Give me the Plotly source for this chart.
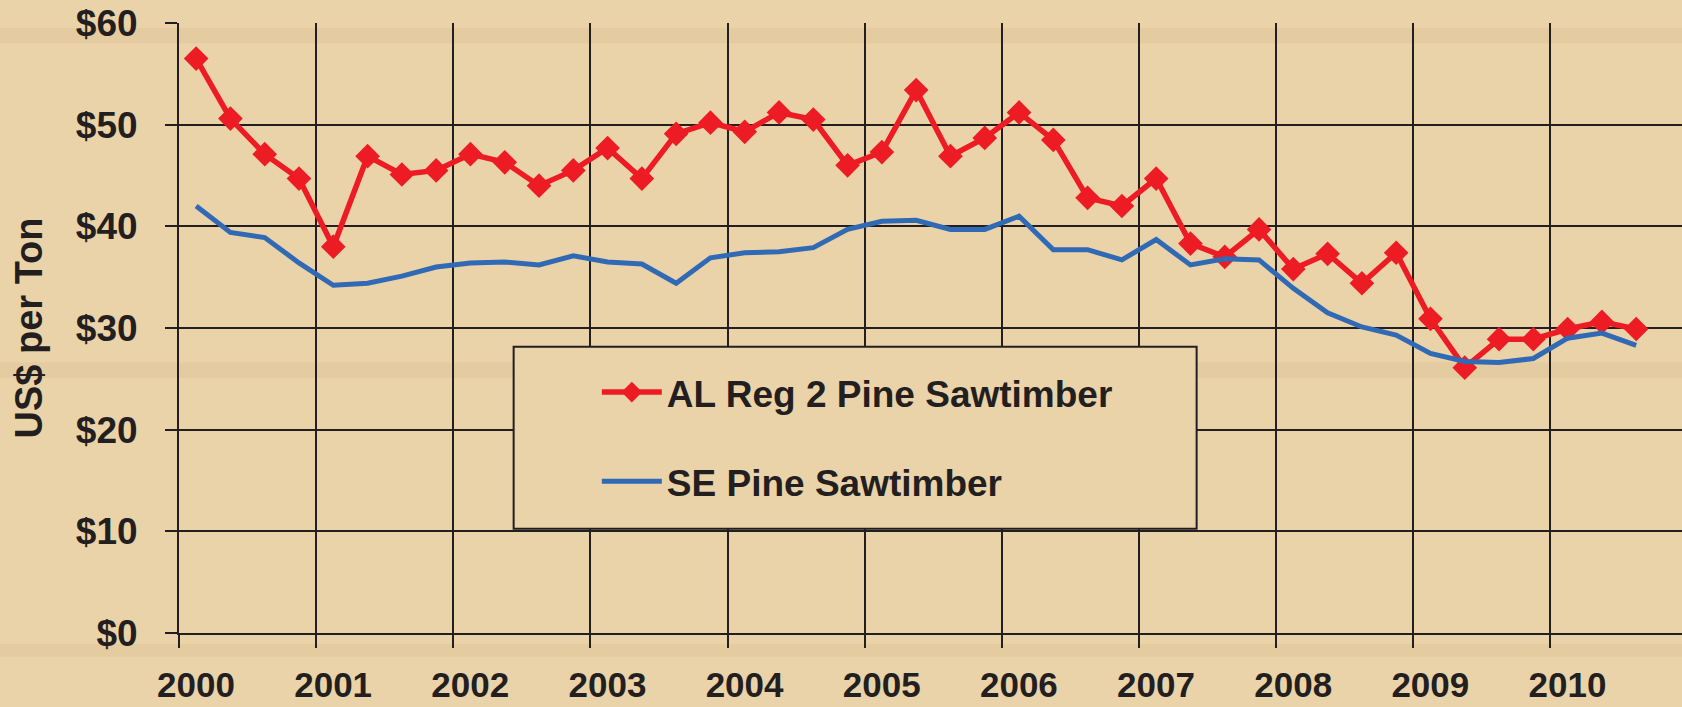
import plotly.graph_objects as go

# Quarterly stumpage prices, 2000 Q1 - 2010 Q3
years = list(range(2000, 2011))
quarters = [(y, q) for y in years for q in range(1, 5)][:43]
x_pos = [y + (q - 0.5) / 4 for y, q in quarters]

al_reg2 = [56.5, 50.6, 47.1, 44.7, 38.0, 46.9, 45.1, 45.5, 47.1, 46.3, 44.0,
           45.5, 47.7, 44.7, 49.1, 50.2, 49.3, 51.2, 50.5, 46.0, 47.3, 53.4,
           46.9, 48.7, 51.2, 48.5, 42.8, 42.0, 44.7, 38.3, 37.0, 39.7, 35.8,
           37.3, 34.4, 37.4, 30.9, 26.1, 28.9, 28.9, 29.9, 30.6, 29.9]
se_pine = [42.0, 39.4, 38.9, 36.4, 34.2, 34.4, 35.1, 36.0, 36.4, 36.5, 36.2,
           37.1, 36.5, 36.3, 34.4, 36.9, 37.4, 37.5, 37.9, 39.7, 40.5, 40.6,
           39.7, 39.7, 41.0, 37.7, 37.7, 36.7, 38.7, 36.2, 36.8, 36.7, 33.9,
           31.5, 30.1, 29.3, 27.5, 26.7, 26.6, 27.0, 29.0, 29.5, 28.3]

x_ticks = years
x_labels = [str(y) for y in years]
y_ticks = [0, 10, 20, 30, 40, 50, 60]
y_labels = ["$" + str(v) for v in y_ticks]

BG = "#EBD3A9"
INK = "#231F20"
FONT = "Liberation Sans, Arial, sans-serif"

fig = go.Figure()
fig.add_trace(go.Scatter(
    x=x_pos, y=al_reg2, name="AL Reg 2 Pine Sawtimber", legendgroup="a",
    mode="lines+markers",
    line=dict(color="#ED1C24", width=5.5),
    marker=dict(symbol="diamond", size=19, color="#ED1C24"),
))
fig.add_trace(go.Scatter(
    x=x_pos, y=se_pine, name="SE Pine Sawtimber", legendgroup="b",
    mode="lines",
    line=dict(color="#306AB5", width=5),
))

# faint wood-grain streaks
for y0, y1 in [(0.967, 0.992), (0.418, 0.444), (-0.039, -0.018)]:
    fig.add_shape(type="rect", xref="paper", yref="paper", x0=-0.13, x1=1.0,
                  y0=y0, y1=y1, layer="below", line_width=0,
                  fillcolor="rgba(190,150,100,0.12)")

# legend frame
fig.add_shape(type="rect", xref="x", yref="y", x0=2002.44, x1=2007.42,
              y0=10.26, y1=28.15, layer="above",
              line=dict(color=INK, width=2), fillcolor=BG)

fig.update_layout(
    width=1682, height=707,
    margin=dict(l=179, r=0, t=23, b=74),
    paper_bgcolor=BG, plot_bgcolor="rgba(0,0,0,0)",
    font=dict(family=FONT, size=37, color=INK, weight="bold"),
    showlegend=True,
    legend=dict(x=0.278, y=0.445, xanchor="left", yanchor="top",
                bgcolor="rgba(0,0,0,0)", borderwidth=0,
                traceorder="grouped", tracegroupgap=38,
                itemwidth=60,
                font=dict(size=37, family=FONT, color=INK, weight="bold")),
    xaxis=dict(range=[2000, 2010.959], tickmode="array", tickvals=x_ticks,
               ticktext=x_labels, showgrid=True, gridcolor=INK, gridwidth=2,
               showline=True, linecolor=INK, linewidth=2,
               ticks="outside", ticklen=13, tickwidth=2, tickcolor=INK,
               tickfont=dict(size=35),
               ticklabelshift=17, ticklabelstandoff=7, automargin=False,
               zeroline=False, fixedrange=True),
    yaxis=dict(range=[0, 60], tickmode="array", tickvals=y_ticks,
               ticktext=y_labels, showgrid=True, gridcolor=INK, gridwidth=2,
               showline=True, linecolor=INK, linewidth=2,
               ticks="outside", ticklen=12, tickwidth=2, tickcolor=INK,
               ticklabelstandoff=20, zeroline=False, automargin=False,
               title=dict(text="US$ per Ton", standoff=22,
                          font=dict(size=38, family=FONT, color=INK, weight="bold"))),
)

fig.write_html("out.html", config={"displayModeBar": False},
               post_script="document.body.style.margin='0';")
